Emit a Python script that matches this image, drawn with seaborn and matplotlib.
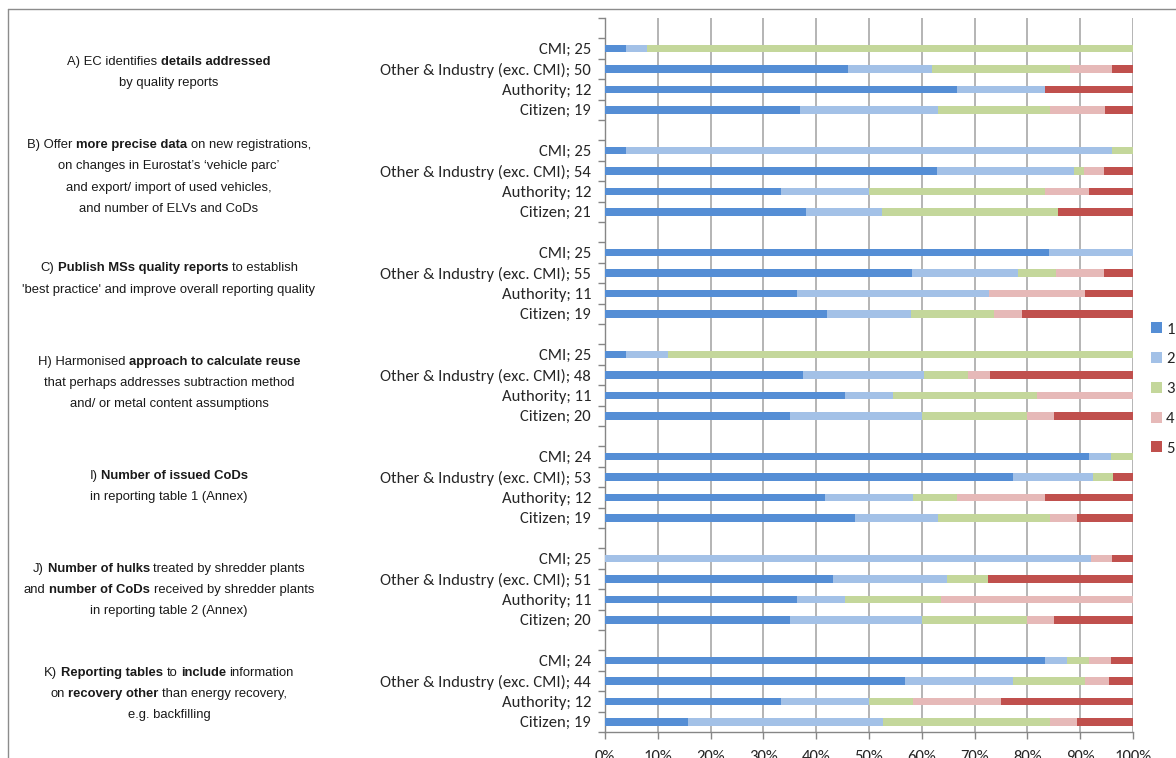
import numpy as np
import pandas as pd
import matplotlib
matplotlib.use("Agg")
import matplotlib.pyplot as plt
import seaborn as sns
from matplotlib.transforms import IdentityTransform
from matplotlib.lines import Line2D
from matplotlib.patches import Patch
from matplotlib import font_manager as fm

# ---------------- data ----------------
questions = ["A", "B", "C", "H", "I", "J", "K"]
respondents = ["CMI", "Other & Industry (exc. CMI)", "Authority", "Citizen"]
n_respondents = [
    [25, 50, 12, 19],
    [25, 54, 12, 21],
    [25, 55, 11, 19],
    [25, 48, 11, 20],
    [24, 53, 12, 19],
    [25, 51, 11, 20],
    [24, 44, 12, 19],
]
# number of answers per score (1..5), rows in order question x respondent
score_1 = [1, 23, 8, 7,   1, 34, 4, 8,   21, 32, 4, 8,   1, 18, 5, 7,   22, 41, 5, 9,   0, 22, 4, 7,   20, 25, 4, 3]
score_2 = [1, 8, 2, 5,    23, 14, 2, 3,  4, 11, 4, 3,    2, 11, 1, 5,   1, 8, 2, 3,     23, 11, 1, 5,  1, 9, 2, 7]
score_3 = [23, 13, 0, 4,  1, 1, 4, 7,    0, 4, 0, 3,     22, 4, 3, 4,   1, 2, 1, 4,     0, 4, 2, 4,    1, 6, 1, 6]
score_4 = [0, 4, 0, 2,    0, 2, 1, 0,    0, 5, 2, 1,     0, 2, 2, 1,    0, 0, 2, 1,     1, 0, 4, 1,    1, 2, 2, 1]
score_5 = [0, 2, 2, 1,    0, 3, 1, 3,    0, 3, 1, 4,     0, 13, 0, 3,   0, 2, 2, 2,     1, 14, 0, 3,   1, 2, 3, 2]
score_labels = ["1", "2", "3", "4", "5"]
colors = ["#558ED5", "#A3C1E7", "#C4D79B", "#E6B9B8", "#C0504D"]

question_text = {
    "A": [[("A) EC identifies ", 0), ("details addressed", 1)],
          [("by quality reports", 0)]],
    "B": [[("B) Offer ", 0), ("more precise data", 1), (" on new registrations,", 0)],
          [("on changes in Eurostat\u2019s \u2018vehicle parc\u2019", 0)],
          [("and export/ import of used vehicles,", 0)],
          [("and number of ELVs and CoDs", 0)]],
    "C": [[("C) ", 0), ("Publish MSs quality reports", 1), (" to establish", 0)],
          [("'best practice' and improve overall reporting quality", 0)]],
    "H": [[("H) Harmonised ", 0), ("approach to calculate reuse", 1)],
          [("that perhaps addresses subtraction method", 0)],
          [("and/ or metal content assumptions", 0)]],
    "I": [[("I) ", 0), ("Number of issued CoDs", 1)],
          [("in reporting table 1 (Annex)", 0)]],
    "J": [[("J) ", 0), ("Number of hulks", 1), (" treated by shredder plants", 0)],
          [("and ", 0), ("number of CoDs", 1), (" received by shredder plants", 0)],
          [("in reporting table 2 (Annex)", 0)]],
    "K": [[("K) ", 0), ("Reporting tables", 1), (" to ", 0), ("include", 1), (" information", 0)],
          [("on ", 0), ("recovery other", 1), (" than energy recovery,", 0)],
          [("e.g. backfilling", 0)]],
}

# ---------------- table ----------------
rows = []
i = 0
for qi, q in enumerate(questions):
    for ri, r in enumerate(respondents):
        n = n_respondents[qi][ri]
        counts = [score_1[i], score_2[i], score_3[i], score_4[i], score_5[i]]
        pct = np.array(counts, dtype=float) / n * 100
        cum = np.cumsum(pct)
        row = {"key": f"{q}|{r}", "label": f"{r}; {n}"}
        for k in range(5):
            row[f"cum{k+1}"] = cum[k]
        rows.append(row)
        i += 1
df = pd.DataFrame(rows)

order = ["_pad"]
for qi, q in enumerate(questions):
    order += [f"{q}|{r}" for r in respondents]
    if qi < len(questions) - 1:
        order.append(f"_gap{q}")

# ---------------- fonts ----------------
def pick(fams):
    for f in fams:
        try:
            fm.findfont(fm.FontProperties(family=f), fallback_to_default=False)
            return f
        except Exception:
            pass
    return "DejaVu Sans"

tick_font = pick(["Carlito", "Lato", "Open Sans"])
note_font = pick(["Liberation Sans Narrow", "Liberation Sans", "Arial"])

sns.set_style("white")
plt.rcParams["font.family"] = [tick_font, "DejaVu Sans"]

W, H, DPI = 1176, 758, 100
fig = plt.figure(figsize=(W / DPI, H / DPI), dpi=DPI)
ax_left, ax_right, ax_top, ax_bot = 605, 1133, 18, 732
ax = fig.add_axes([ax_left / W, 1 - ax_bot / H, (ax_right - ax_left) / W, (ax_bot - ax_top) / H])

for k in reversed(range(5)):
    sns.barplot(data=df, x=f"cum{k+1}", y="key", order=order, color=colors[k],
                saturation=1, width=0.38, orient="h", errorbar=None,
                linewidth=0, ax=ax, zorder=3)

tick_size = 12
pos = {key: j for j, key in enumerate(order)}
ax.set_yticks([pos[k] for k in df["key"]])
ax.set_yticklabels(df["label"], fontsize=tick_size, family=[tick_font, "DejaVu Sans"])
ax.set_yticks(np.arange(-0.5, len(order), 1.0), minor=True)
ax.set_ylim(len(order) - 0.5, -0.5)
ax.set_xlim(0, 100)
ax.set_xticks(np.arange(0, 101, 10))
ax.set_xticklabels([f"{v}%" for v in range(0, 101, 10)], fontsize=tick_size)
ax.set_xlabel("")
ax.set_ylabel("")
ax.tick_params(axis="y", which="major", length=0, pad=10)
ax.tick_params(axis="y", which="minor", length=5, width=1, color="#868686", left=True)
ax.tick_params(axis="x", which="major", length=5, width=1, color="#868686", pad=8, bottom=True)
ax.grid(axis="x", color="#A0A0A0", linewidth=1.1, zorder=0)
ax.set_axisbelow(True)
for s in ["top", "right"]:
    ax.spines[s].set_visible(False)
for s in ["left", "bottom"]:
    ax.spines[s].set_color("#868686")
    ax.spines[s].set_linewidth(1)

# legend
handles = [Patch(facecolor=c, edgecolor="none") for c in colors]
fig.legend(handles, score_labels, loc="center left",
           bbox_to_anchor=(1151 / W, 1 - 389 / H), frameon=False,
           handlelength=0.65, handleheight=0.65, handletextpad=0.25,
           labelspacing=0.92, fontsize=tick_size, borderpad=0, borderaxespad=0)

# figure frame
fig.add_artist(Line2D([8, 8], [0, H - 9], transform=IdentityTransform(), color="#8C8C8C", lw=1))
fig.add_artist(Line2D([8, W], [H - 9, H - 9], transform=IdentityTransform(), color="#8C8C8C", lw=1))

# question annotations with mixed bold
fig.canvas.draw()
renderer = fig.canvas.get_renderer()
note_size = 9.4


def text_width(s, bold):
    t = fig.text(0, 0, s, fontsize=note_size, family=note_font,
                 fontweight="bold" if bold else "normal", transform=IdentityTransform())
    w = t.get_window_extent(renderer).width
    t.remove()
    return w

space_w = text_width("x x", 0) - text_width("xx", 0)


def rich_line(segments, cx, cy):
    parts = []
    for s, b in segments:
        lead = s.startswith(" ")
        trail = s.endswith(" ")
        core = s.strip()
        parts.append((core, b, lead, trail, text_width(core, b)))
    total = 0
    for core, b, lead, trail, w in parts:
        if lead:
            total += space_w
        total += w
        if trail:
            total += space_w
    x = cx - total / 2
    for core, b, lead, trail, w in parts:
        if lead:
            x += space_w
        fig.text(x, cy, core, fontsize=note_size, family=note_font,
                 fontweight="bold" if b else "normal", color="#1A1A1A",
                 ha="left", va="center", transform=IdentityTransform())
        x += w
        if trail:
            x += space_w

text_centers = [72.5, 177, 279, 383, 486.5, 590, 694]
line_gap = 21.3
for qi, q in enumerate(questions):
    lines = question_text[q]
    nl = len(lines)
    for li, segs in enumerate(lines):
        y_px = text_centers[qi] + (li - (nl - 1) / 2) * line_gap
        rich_line(segs, 169, H - y_px)

fig.savefig("out.png", dpi=DPI)
